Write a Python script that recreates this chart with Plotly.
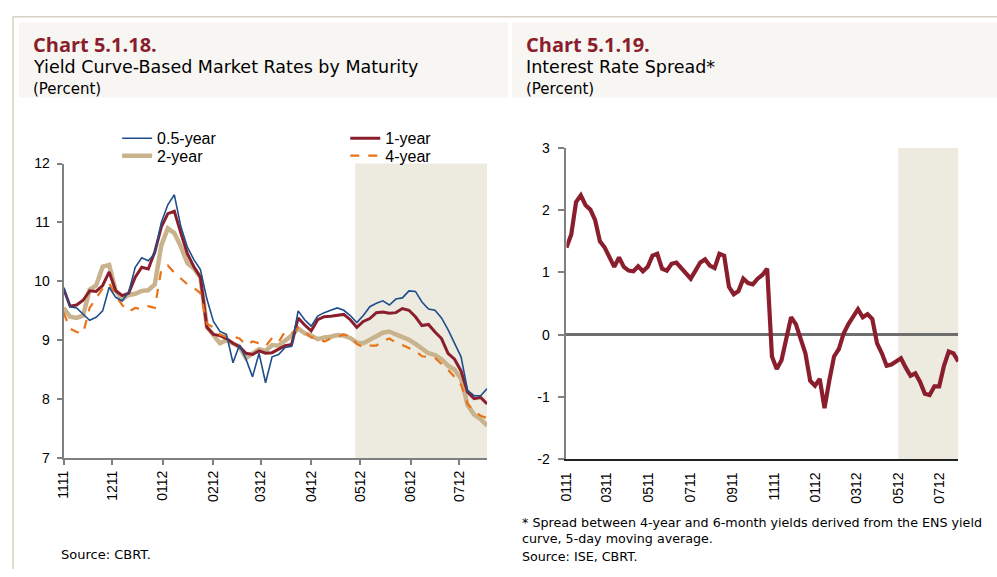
import plotly.graph_objects as go
import pandas as pd

# ---------------- data ----------------
# Chart 5.1.18: yield-curve based market rates (percent), sampled every 4 days from 1 Nov 2011
rate_dates = pd.date_range("2011-11-01", periods=66, freq="4D")
yield_05y = [9.90, 9.57, 9.55, 9.45, 9.34, 9.39, 9.50, 9.90, 9.73, 9.67, 9.82, 10.24, 10.40, 10.35, 10.47,
             11.00, 11.30, 11.47, 10.93, 10.58, 10.37, 10.20, 9.70, 9.32, 9.15, 9.10, 8.62, 8.92, 8.68, 8.38,
             8.78, 8.28, 8.72,
             8.76, 8.88, 8.90, 9.50, 9.35, 9.24, 9.41, 9.47, 9.51, 9.55, 9.51, 9.42, 9.30, 9.42, 9.57, 9.63,
             9.67, 9.60, 9.70, 9.72, 9.84, 9.83, 9.65, 9.53, 9.51, 9.38, 9.18, 8.96, 8.72, 8.15, 8.06, 8.06, 8.18]
yield_1y = [9.88, 9.58, 9.60, 9.68, 9.84, 9.83, 9.93, 10.16, 9.84, 9.76, 9.80, 10.07, 10.24, 10.21, 10.50,
            10.92, 11.15, 11.19, 10.82, 10.47, 10.25, 10.07, 9.22, 9.10, 9.08, 9.03, 8.95, 8.89, 8.78, 8.76,
            8.82, 8.78, 8.79,
            8.85, 8.91, 8.93, 9.38, 9.26, 9.16, 9.35, 9.40, 9.41, 9.42, 9.44, 9.35, 9.22, 9.32, 9.37, 9.47,
            9.48, 9.46, 9.47, 9.54, 9.51, 9.40, 9.25, 9.27, 9.14, 9.03, 8.78, 8.68, 8.48, 8.12, 8.01, 8.03, 7.92]
yield_2y = [9.55, 9.40, 9.38, 9.42, 9.86, 9.93, 10.25, 10.28, 9.84, 9.70, 9.77, 9.79, 9.84, 9.85, 9.95,
            10.61, 10.90, 10.82, 10.59, 10.31, 10.22, 10.07, 9.23, 9.10, 8.95, 9.00, 8.94, 8.89, 8.70, 8.78,
            8.85, 8.82, 8.92,
            8.91, 8.99, 9.08, 9.20, 9.12, 9.08, 9.02, 9.05, 9.06, 9.09, 9.08, 9.04, 8.96, 8.95, 9.00, 9.07,
            9.13, 9.15, 9.10, 9.06, 9.01, 8.94, 8.85, 8.78, 8.75, 8.68, 8.57, 8.50, 8.35, 7.90, 7.74, 7.66, 7.55]
yield_4y = [9.47, 9.20, 9.14, 9.12, 9.55, 9.72, 9.88, 9.97, 9.76, 9.60, 9.49, 9.55, 9.53, 9.58, 9.55,
            10.20, 10.27, 10.15, 10.05, 9.95, 9.89, 9.80, 9.28, 9.22, 9.10, 9.06, 9.07, 9.03, 8.92, 8.98,
            8.95, 8.90, 9.04,
            8.97, 9.15, 9.12, 9.21, 9.14, 9.05, 9.03, 8.98, 9.03, 9.06, 9.10, 9.07, 8.94, 8.88, 8.91, 8.91,
            8.99, 9.03, 8.96, 8.92, 8.87, 8.82, 8.73, 8.71, 8.70, 8.60, 8.50, 8.38, 8.25, 7.92, 7.80, 7.72, 7.68]

# Chart 5.1.19: 4-year minus 6-month spread (percent), weekly from 1 Jan 2011
spread_dates = pd.date_range("2011-01-01", periods=83, freq="7D")
spread = [1.40, 1.61, 2.13, 2.24, 2.08, 2.01, 1.84, 1.50, 1.40, 1.24, 1.09, 1.24, 1.09, 1.03, 1.02, 1.10,
          1.02, 1.09, 1.27, 1.30, 1.06, 1.03, 1.14, 1.16, 1.07, 0.98, 0.90, 1.03, 1.16, 1.21, 1.11, 1.07,
          1.30, 1.27, 0.77, 0.65, 0.70, 0.90, 0.83, 0.81, 0.90,
          0.96, 1.06, -0.35, -0.55, -0.41, -0.10, 0.28, 0.17, -0.09, -0.30, -0.74, -0.82, -0.71, -1.18,
          -0.74, -0.35, -0.23, 0.02, 0.17, 0.28, 0.41, 0.28, 0.33, 0.25, -0.14, -0.30, -0.50, -0.48, -0.42,
          -0.38, -0.53, -0.66, -0.62, -0.76, -0.95, -0.97, -0.83, -0.83, -0.50, -0.27, -0.30, -0.43]

left_range = ["2011-11-01", "2012-07-18"]
left_shade = ["2012-04-28", "2012-07-18"]
right_range = ["2011-01-01", "2012-07-28"]
right_shade = ["2012-05-01", "2012-07-28"]
spread_ticks = [-2, -1, 0, 1, 2, 3]
spread_tick_text = ["-2", "-1", "0", "1", "2", "3"]

# ---------------- styling ----------------
W, H = 997, 577
def px(x):
    return x / W
def py(y):
    return 1 - y / H

NUM_FONT = "Open Sans"
TEXT_FONT = "DejaVu Sans"
AXIS_FONT = "Liberation Sans"
DARK_RED = "#8B1E2D"
AXIS_GRAY = "#808080"
SHADE = "#EDEAE0"
BAND = "#F7F6F2"

fig = go.Figure()

fig.add_trace(go.Scatter(x=rate_dates, y=yield_2y, name="2-year", mode="lines",
                         line=dict(color="#C9B38C", width=4.5), legend="legend2",
                         xaxis="x", yaxis="y"))
fig.add_trace(go.Scatter(x=rate_dates, y=yield_1y, name="1-year", mode="lines",
                         line=dict(color=DARK_RED, width=3), legend="legend3",
                         xaxis="x", yaxis="y"))
fig.add_trace(go.Scatter(x=rate_dates, y=yield_4y, name="4-year", mode="lines",
                         line=dict(color="#E8731A", width=2.2, dash="dash"), legend="legend4",
                         xaxis="x", yaxis="y"))
fig.add_trace(go.Scatter(x=rate_dates, y=yield_05y, name="0.5-year", mode="lines",
                         line=dict(color="#1F4E8C", width=1.6), legend="legend",
                         xaxis="x", yaxis="y"))
fig.add_trace(go.Scatter(x=spread_dates, y=spread, name="Spread", mode="lines",
                         line=dict(color=DARK_RED, width=4.2), showlegend=False,
                         xaxis="x2", yaxis="y2"))

tickfont = dict(family=AXIS_FONT, size=14, color="black")

shapes = [
    dict(type="line", xref="paper", yref="paper", x0=px(5), x1=1, y0=py(9), y1=py(9),
         line=dict(color="#D8D2C4", width=1.5), layer="below"),
    dict(type="line", xref="paper", yref="paper", x0=px(5), x1=px(5), y0=py(9), y1=0,
         line=dict(color="#D8D2C4", width=1.5), layer="below"),
    dict(type="rect", xref="paper", yref="paper", x0=px(11), x1=px(504), y0=py(92), y1=py(15),
         fillcolor=BAND, line=dict(width=0), layer="below"),
    dict(type="rect", xref="paper", yref="paper", x0=px(508), x1=1, y0=py(92), y1=py(15),
         fillcolor=BAND, line=dict(width=0), layer="below"),
    dict(type="rect", xref="x", yref="y domain", x0=left_shade[0], x1=left_shade[1], y0=0, y1=1,
         fillcolor=SHADE, line=dict(width=0), layer="below"),
    dict(type="rect", xref="x2", yref="y2 domain", x0=right_shade[0], x1=right_shade[1], y0=0, y1=1,
         fillcolor=SHADE, line=dict(width=0), layer="below"),
]

def ann(text, x, y, size, color="black", family=TEXT_FONT, bold=False):
    t = f"<b>{text}</b>" if bold else text
    return dict(text=t, x=px(x), y=py(y), xref="paper", yref="paper", xanchor="left", yanchor="middle",
                showarrow=False, borderpad=0, font=dict(family=family, size=size, color=color))

annotations = [
    ann("Chart 5.1.18.", 24, 38, 20, DARK_RED, family=NUM_FONT, bold=True),
    ann("Yield Curve-Based Market Rates by Maturity", 24, 61, 17.5),
    ann("(Percent)", 24, 83, 15),
    ann("Chart 5.1.19.", 521, 38, 20, DARK_RED, family=NUM_FONT, bold=True),
    ann("Interest Rate Spread*", 521, 61, 17.5),
    ann("(Percent)", 521, 83, 15),
    ann("Source: CBRT.", 52, 562, 13),
    ann("* Spread between 4-year and 6-month yields derived from the ENS yield", 517, 529, 12.7),
    ann("curve, 5-day moving average.", 517, 546, 12.7),
    ann("Source: ISE, CBRT.", 517, 564, 12.7),
]

def leg(x, y):
    return dict(x=px(x), y=py(y), xanchor="left", yanchor="middle", bgcolor="rgba(0,0,0,0)",
                font=dict(family=AXIS_FONT, size=16, color="black"), tracegroupgap=0)

fig.update_layout(
    width=W, height=H,
    margin=dict(l=0, r=0, t=0, b=0),
    paper_bgcolor="white", plot_bgcolor="white",
    shapes=shapes, annotations=annotations,
    xaxis=dict(domain=[px(56), px(483)], anchor="y", type="date", range=left_range,
               tick0="2011-11-01", dtick="M1", tickformat="%m%y", tickangle=-90,
               showgrid=False, zeroline=False, showline=True, linecolor=AXIS_GRAY, linewidth=2,
               ticks="outside", ticklen=5, tickcolor=AXIS_GRAY, tickwidth=1.5, tickfont=tickfont),
    yaxis=dict(domain=[py(463), py(160)], anchor="x", range=[7, 12], dtick=1,
               showgrid=False, zeroline=False, showline=True, linecolor=AXIS_GRAY, linewidth=2,
               ticks="outside", ticklen=5, tickcolor=AXIS_GRAY, tickwidth=1.5, tickfont=tickfont,
               ticklabelstandoff=4),
    xaxis2=dict(domain=[px(563), px(958)], anchor="y2", type="date", range=right_range,
                tick0="2011-01-01", dtick="M2", tickformat="%m%y", tickangle=-90,
                showgrid=False, zeroline=False, showline=True, linecolor="#222222", linewidth=1.5,
                ticks="", tickfont=tickfont, ticklabelstandoff=6),
    yaxis2=dict(domain=[py(464), py(144)], anchor="x2", range=[-2, 3],
                tickmode="array", tickvals=spread_ticks, ticktext=spread_tick_text,
                showgrid=False, zeroline=True, zerolinecolor="#6E6E6E", zerolinewidth=2.5,
                showline=True, linecolor=AXIS_GRAY, linewidth=2,
                ticks="outside", ticklen=6, tickcolor=AXIS_GRAY, tickwidth=1.5, tickfont=tickfont,
                ticklabelstandoff=6),
    legend=leg(110, 134),
    legend2=leg(110, 152),
    legend3=leg(340, 134),
    legend4=leg(340, 152),
)

fig.write_html("out.html", config={"displayModeBar": False},
               post_script="document.body.style.margin='0px';document.body.style.overflow='hidden';")
